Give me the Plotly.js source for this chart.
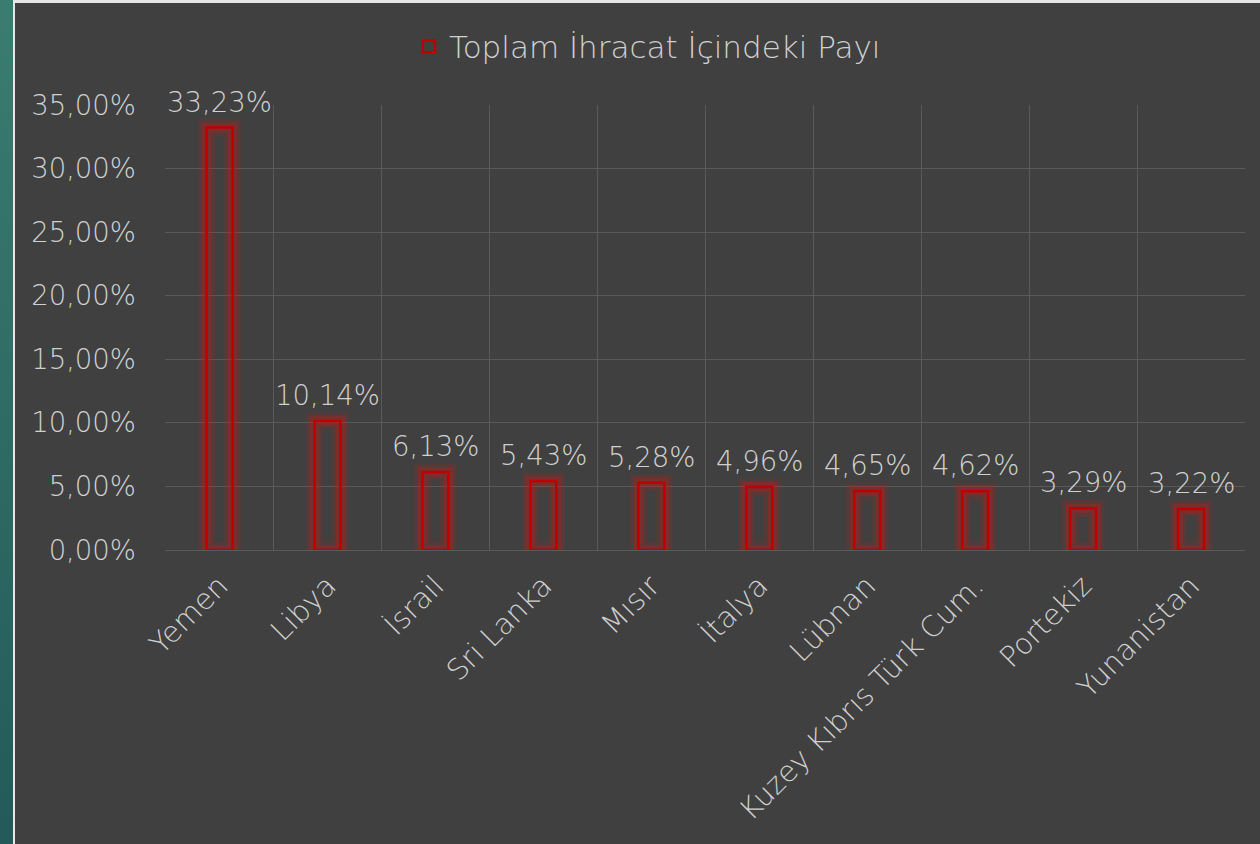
<!DOCTYPE html>
<html>
<head>
<meta charset="utf-8">
<script src="https://cdn.plot.ly/plotly-3.0.1.min.js"></script>
<style>
  html, body { margin: 0; padding: 0; width: 1260px; height: 844px; overflow: hidden; background: #e6e6e6; }
  #strip { position: absolute; left: 0; top: 0; width: 13px; height: 844px; background: linear-gradient(#3b7c70, #235a59); }
  #chart { position: absolute; left: 15px; top: 3px; width: 1245px; height: 841px; }
</style>
</head>
<body>
<div id="strip"></div>
<div id="chart"></div>
<script>
const categories = ["Yemen", "Libya", "İsrail", "Sri Lanka", "Mısır", "İtalya", "Lübnan", "Kuzey Kıbrıs Türk Cum.", "Portekiz", "Yunanistan"];
const shares = [33.23, 10.14, 6.13, 5.43, 5.28, 4.96, 4.65, 4.62, 3.29, 3.22];
const seriesName = "Toplam İhracat İçindeki Payı";

const fracs = shares.map(v => v / 100);
const FONT = "'DejaVu Sans', sans-serif";
const TXT = "#d0d0d0";
const F = (size) => ({ family: FONT, size: size, color: TXT, weight: 200 });

const glowOuter = {
  type: "bar", x: categories, y: fracs, width: 0.24,
  marker: { color: "rgba(0,0,0,0)", line: { color: "rgba(210,20,20,0.14)", width: 17 } },
  showlegend: false, hoverinfo: "skip"
};
const glow = {
  type: "bar", x: categories, y: fracs, width: 0.24,
  marker: { color: "rgba(0,0,0,0)", line: { color: "rgba(210,20,20,0.3)", width: 10 } },
  showlegend: false, hoverinfo: "skip"
};
const main = {
  type: "bar", x: categories, y: fracs, width: 0.24, name: seriesName,
  marker: { color: "rgba(0,0,0,0)", line: { color: "#c00000", width: 2.5 } },
  hoverinfo: "skip"
};

const labels = categories.map((c, i) => ({
  x: c, y: fracs[i], xref: "x", yref: "y",
  text: shares[i].toFixed(2).replace(".", ",") + "%",
  showarrow: false, yanchor: "bottom", yshift: 8,
  font: F(27.5)
}));

const layout = {
  width: 1245, height: 841,
  margin: { l: 150, r: 15, t: 102, b: 294, pad: 0 },
  paper_bgcolor: "#404040", plot_bgcolor: "#404040",
  separators: ",.",
  barmode: "overlay",
  font: F(27.5),
  showlegend: true,
  legend: {
    orientation: "h", xref: "container", yref: "container",
    x: 0.508, xanchor: "center", y: 0.948, yanchor: "middle",
    font: F(31), bgcolor: "rgba(0,0,0,0)", itemwidth: 30
  },
  annotations: labels,
  xaxis: {
    type: "category", tickson: "boundaries", showgrid: true, gridcolor: "#5a5a5a", gridwidth: 1,
    tickangle: -45, ticks: "", showline: false, zeroline: false,
    ticklabelstandoff: 12,
    tickfont: F(29)
  },
  yaxis: {
    range: [0, 0.35], dtick: 0.05, tickformat: ".2%", showgrid: true, gridcolor: "#5a5a5a", gridwidth: 1,
    zeroline: true, zerolinecolor: "#5a5a5a", zerolinewidth: 1, ticks: "", showline: false,
    ticklabelstandoff: 28,
    tickfont: F(27.5)
  }
};

Plotly.newPlot("chart", [glowOuter, glow, main], layout, { displayModeBar: false, staticPlot: true });
</script>
</body>
</html>
